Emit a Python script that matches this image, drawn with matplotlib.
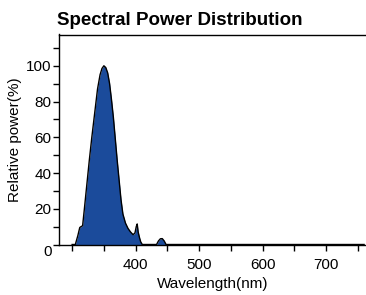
import matplotlib
matplotlib.use("Agg")
import matplotlib.pyplot as plt
import matplotlib.transforms as mtransforms
from matplotlib.ticker import FixedLocator

plt.rcParams['font.family'] = ['Liberation Sans', 'DejaVu Sans']

# wavelength (nm) and relative power (%)
wavelength = [300, 305, 309, 312, 314, 316.5, 319, 323, 327, 331, 336, 340, 344, 347,
              350, 353, 356, 359, 362, 365, 368, 371, 374, 377, 380, 384, 388, 392,
              396, 399, 401, 402.5, 404, 406, 408, 410.5, 433, 436, 439, 442, 445, 448, 760]
power = [0, 0, 5, 9.5, 10, 10.5, 19, 33, 47, 60, 75, 87, 95, 98.5,
         100, 99, 96, 90, 81, 71, 59, 47, 36, 25, 17, 12, 9, 7,
         5.5, 6.5, 10, 11.5, 7, 4, 1.5, 0, 0, 2, 3.2, 3.3, 2, 0, 0]

x_major = [400, 500, 600, 700]
x_minor = [300, 350, 450, 550, 650, 750]
y_major = [0, 20, 40, 60, 80, 100]
y_minor = [10, 30, 50, 70, 90, 110]

fig = plt.figure(figsize=(3.66, 2.95), dpi=100)
ax = fig.add_axes([58.5 / 366, 1 - 244.5 / 295, 1 - 58.5 / 366, (244.5 - 34.5) / 295])

ax.fill_between(wavelength, power, 0, color='#1b4b9b', lw=0)
ax.plot(wavelength, power, color='black', lw=1)

ax.set_xlim(278.5, 763)
ax.set_ylim(0, 117.5)
ax.spines['right'].set_visible(False)
for s in ['left', 'top', 'bottom']:
    ax.spines[s].set_linewidth(1)

ax.xaxis.set_major_locator(FixedLocator(x_major))
ax.xaxis.set_minor_locator(FixedLocator(x_minor))
ax.yaxis.set_major_locator(FixedLocator(y_major))
ax.yaxis.set_minor_locator(FixedLocator(y_minor))
ax.tick_params(which='both', direction='out', length=4, width=1, labelsize=11)
ax.tick_params(axis='x', which='major', pad=6)
ax.tick_params(axis='y', which='major', pad=1)

# the "0" label sits a little below the axis in the reference
lbl0 = ax.get_yticklabels()[0]
lbl0.set_transform(lbl0.get_transform() + mtransforms.ScaledTranslation(0, -6 / 100, fig.dpi_scale_trans))

ax.set_xlabel('Wavelength(nm)', fontsize=11, labelpad=3)
ax.set_ylabel('Relative power(%)', fontsize=11, labelpad=3)

fig.text(57 / 366, 1 - 25 / 295, 'Spectral Power Distribution', fontsize=13.5, fontweight='bold')

fig.savefig('out.png', dpi=100)
